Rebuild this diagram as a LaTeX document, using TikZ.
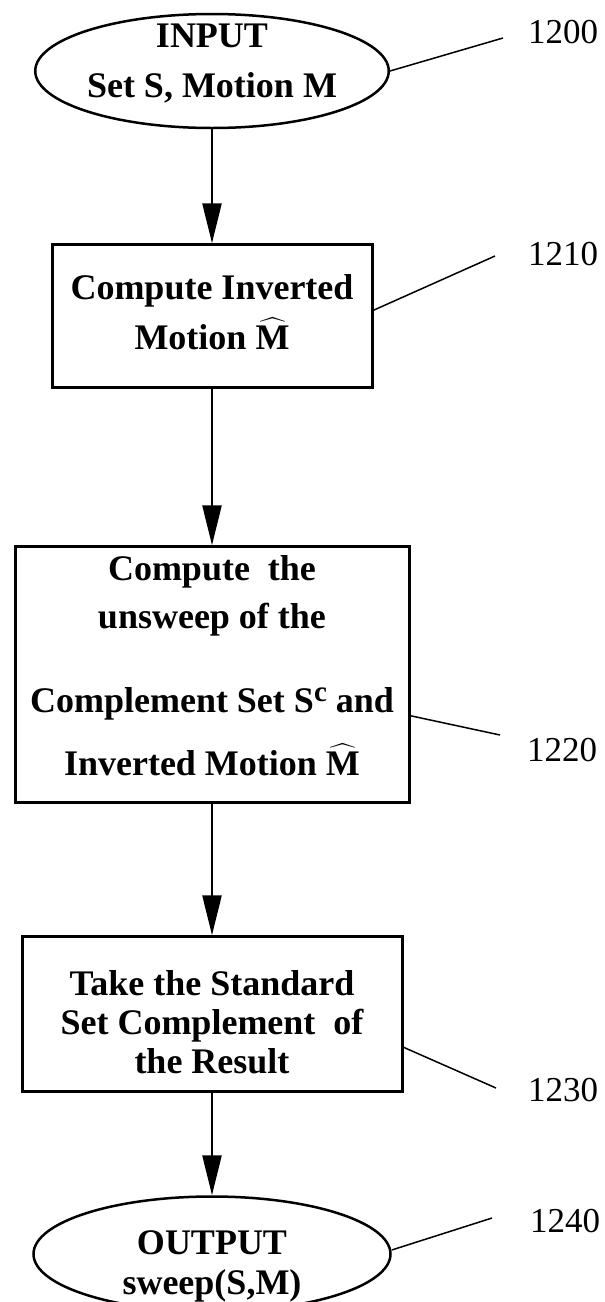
\documentclass[tikz,border=0pt]{standalone}
\usepackage{amsmath}
\usepackage{fontspec}
\setmainfont{Liberation Serif}
\usetikzlibrary{arrows.meta, positioning, shapes.geometric}

\newcommand{\Mhat}{$\widehat{\mathbf{M}}$}
\newcommand{\supc}{\raisebox{11pt}{\fontsize{29}{29}\selectfont c}}

\begin{document}
\begin{tikzpicture}[
  x=1pt, y=-1pt,
  >={Triangle[length=40pt, width=19pt]},
  font=\fontsize{36}{48}\selectfont\bfseries,
  terminal/.style={draw, ellipse, line width=2.5pt, inner sep=0pt, align=center, text depth=0pt},
  stepbox/.style={draw, rectangle, line width=3pt, inner sep=0pt, align=center, text depth=0pt},
  flow/.style={->, line width=2.5pt},
  leader/.style={line width=1.5pt},
  refnum/.style={font=\fontsize{35}{42}\selectfont, inner sep=0pt, anchor=west}
]

  \useasboundingbox (0,0) rectangle (605,1302);

  % Main column
  \node[terminal, minimum width=342pt, minimum height=114pt, text height=52pt] (input) at (212,71) {INPUT\\[2pt]Set S, Motion M};
  \node[stepbox, below=114pt of input, minimum width=320pt, minimum height=143pt, text height=67pt] (invert) {Compute Inverted\\[2pt]Motion \Mhat};
  \node[stepbox, below=156pt of invert, minimum width=394pt, minimum height=256pt, text height=202pt] (unsweep) {Compute\ \ the\\unsweep of the\\[36pt]Complement Set S\supc{} and\\[15pt]Inverted Motion \Mhat};
  \node[stepbox, below=131pt of unsweep, minimum width=380pt, minimum height=155pt, text height=119pt, font=\fontsize{36}{39}\selectfont\bfseries] (complement) {Take the Standard\\Set Complement\ \ of\\the Result};
  \node[terminal, below=102pt of complement, minimum width=357pt, minimum height=115pt, text height=80pt, font=\fontsize{36}{40}\selectfont\bfseries] (output) {OUTPUT\\sweep(S,M)};

  % Reference numerals
  \node[refnum] (l1200) at (528,32) {1200};
  \node[refnum] (l1210) at (528,254) {1210};
  \node[refnum] (l1220) at (527,750) {1220};
  \node[refnum] (l1230) at (528,1090) {1230};
  \node[refnum] (l1240) at (530,1221) {1240};

  \coordinate (e1200) at (503,38);
  \coordinate (e1210) at (495,256);
  \coordinate (e1220) at (500,735);
  \coordinate (e1230) at (496,1088);
  \coordinate (e1240) at (492,1218);

  % Flow arrows
  \draw[flow] (input) -- (invert);
  \draw[flow] (invert) -- (unsweep);
  \draw[flow] (unsweep) -- (complement);
  \draw[flow] (complement) -- (output);

  % Leader lines
  \draw[leader] (input.east) -- (e1200);
  \draw[leader] ([yshift=6pt]invert.east) -- (e1210);
  \draw[leader] ([yshift=-41pt]unsweep.east) -- (e1220);
  \draw[leader] ([yshift=-33pt]complement.east) -- (e1230);
  \draw[leader] ([yshift=4pt]output.east) -- (e1240);

\end{tikzpicture}
\end{document}
